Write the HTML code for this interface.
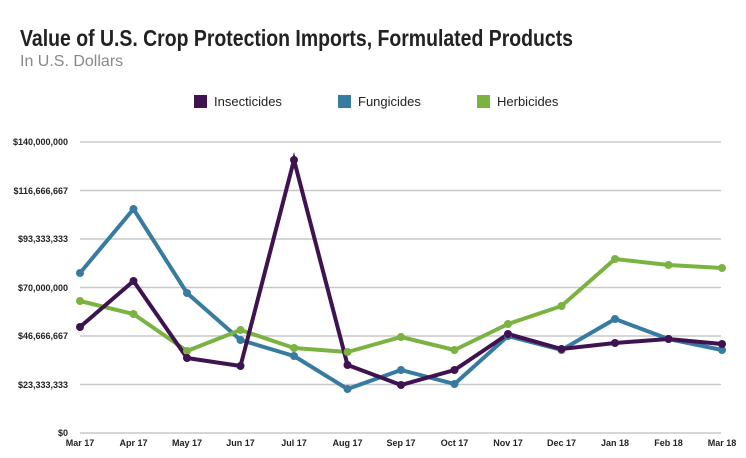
<!DOCTYPE html>
<html><head><meta charset="utf-8"><style>
body{margin:0;background:#fff;width:746px;height:458px;overflow:hidden}
svg{display:block}
</style></head><body>
<svg width="746" height="458" xmlns="http://www.w3.org/2000/svg" font-family="Liberation Sans, sans-serif">
<text x="20" y="46" font-size="23" font-weight="bold" fill="#222" textLength="553" lengthAdjust="spacingAndGlyphs">Value of U.S. Crop Protection Imports, Formulated Products</text>
<text x="20" y="66" font-size="16" fill="#888">In U.S. Dollars</text>
<rect x="194" y="95" width="13" height="13" fill="#3f1350"/><text x="214" y="106" font-size="13" fill="#222">Insecticides</text>
<rect x="338" y="95" width="13" height="13" fill="#377ba0"/><text x="358" y="106" font-size="13" fill="#222">Fungicides</text>
<rect x="477" y="95" width="13" height="13" fill="#7bb342"/><text x="497" y="106" font-size="13" fill="#222">Herbicides</text>
<g stroke="#c8c8c8" stroke-width="1.5">
<line x1="80" x2="721" y1="142" y2="142"/><line x1="80" x2="721" y1="190.5" y2="190.5"/><line x1="80" x2="721" y1="239" y2="239"/><line x1="80" x2="721" y1="287.5" y2="287.5"/><line x1="80" x2="721" y1="336" y2="336"/><line x1="80" x2="721" y1="384.5" y2="384.5"/><line x1="80" x2="721" y1="433" y2="433"/>
</g>
<g font-size="9" font-weight="bold" fill="#222" text-anchor="end">
<text x="68" y="145">$140,000,000</text><text x="68" y="194">$116,666,667</text><text x="68" y="242">$93,333,333</text><text x="68" y="291">$70,000,000</text><text x="68" y="339">$46,666,667</text><text x="68" y="388">$23,333,333</text><text x="68" y="436">$0</text>
</g>
<g font-size="9" font-weight="bold" fill="#222" text-anchor="middle">
<text x="80" y="446">Mar 17</text><text x="133.5" y="446">Apr 17</text><text x="187" y="446">May 17</text><text x="240.5" y="446">Jun 17</text><text x="294" y="446">Jul 17</text><text x="347.5" y="446">Aug 17</text><text x="401" y="446">Sep 17</text><text x="454.5" y="446">Oct 17</text><text x="508" y="446">Nov 17</text><text x="561.5" y="446">Dec 17</text><text x="615" y="446">Jan 18</text><text x="668.5" y="446">Feb 18</text><text x="722" y="446">Mar 18</text>
</g>
<g fill="none" stroke-width="4" stroke-linejoin="round">
<polyline stroke="#377ba0" points="80,273 133.5,209 187,293 240.5,340 294,356 347.5,389 401,370 454.5,384 508,336 561.5,350 615,319 668.5,339 722,350"/>
<polyline stroke="#7bb342" points="80,301 133.5,314 187,351 240.5,330 294,348 347.5,352 401,337 454.5,350 508,324 561.5,306 615,259 668.5,265 722,268"/>
<polyline stroke="#3f1350" stroke-linejoin="miter" points="80,327 133.5,281 187,358 240.5,366 294,160 347.5,365 401,385 454.5,370 508,334 561.5,349 615,343 668.5,339 722,344"/>
</g>
<g fill="#377ba0"><circle cx="80" cy="273" r="4"/><circle cx="133.5" cy="209" r="4"/><circle cx="187" cy="293" r="4"/><circle cx="240.5" cy="340" r="4"/><circle cx="294" cy="356" r="4"/><circle cx="347.5" cy="389" r="4"/><circle cx="401" cy="370" r="4"/><circle cx="454.5" cy="384" r="4"/><circle cx="508" cy="336" r="4"/><circle cx="561.5" cy="350" r="4"/><circle cx="615" cy="319" r="4"/><circle cx="668.5" cy="339" r="4"/><circle cx="722" cy="350" r="4"/></g>
<g fill="#7bb342"><circle cx="80" cy="301" r="4"/><circle cx="133.5" cy="314" r="4"/><circle cx="187" cy="351" r="4"/><circle cx="240.5" cy="330" r="4"/><circle cx="294" cy="348" r="4"/><circle cx="347.5" cy="352" r="4"/><circle cx="401" cy="337" r="4"/><circle cx="454.5" cy="350" r="4"/><circle cx="508" cy="324" r="4"/><circle cx="561.5" cy="306" r="4"/><circle cx="615" cy="259" r="4"/><circle cx="668.5" cy="265" r="4"/><circle cx="722" cy="268" r="4"/></g>
<g fill="#3f1350"><circle cx="80" cy="327" r="4"/><circle cx="133.5" cy="281" r="4"/><circle cx="187" cy="358" r="4"/><circle cx="240.5" cy="366" r="4"/><circle cx="294" cy="160" r="4"/><circle cx="347.5" cy="365" r="4"/><circle cx="401" cy="385" r="4"/><circle cx="454.5" cy="370" r="4"/><circle cx="508" cy="334" r="4"/><circle cx="561.5" cy="349" r="4"/><circle cx="615" cy="343" r="4"/><circle cx="668.5" cy="339" r="4"/><circle cx="722" cy="344" r="4"/></g>
</svg>
</body></html>
